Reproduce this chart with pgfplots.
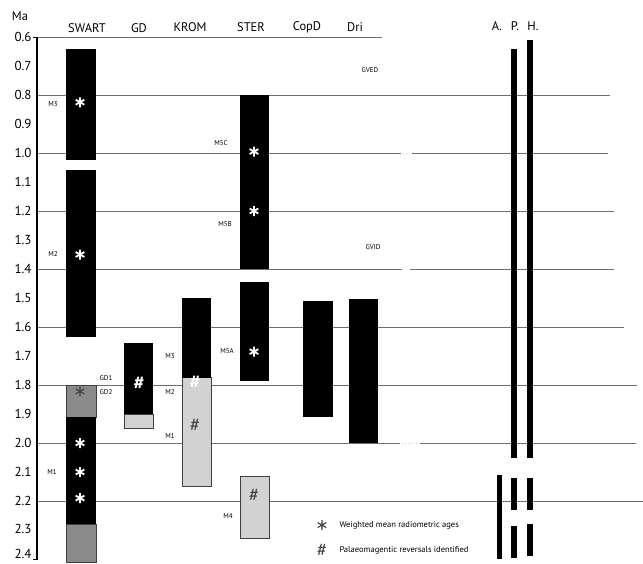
\documentclass[border=0pt]{standalone}
\usepackage{pgfplots}
\pgfplotsset{compat=1.18}
\usepackage{fontspec}
\setmainfont{PT Sans}

\definecolor{gridgray}{HTML}{6E6E6E}
\definecolor{darkfill}{HTML}{8A8A8A}
\definecolor{lightfill}{HTML}{D2D2D2}
\definecolor{edgegray}{HTML}{404040}

% one age range drawn as a filled column: x-from, x-to, age-from, age-to, style
\newcommand{\agebox}[5]{%
  \addplot[#5] coordinates {(#1,#3) (#2,#3) (#2,#4) (#1,#4)} -- cycle;}
% one horizontal age line: age, x-to
\newcommand{\ageline}[2]{%
  \addplot[gridgray, line width=0.9pt] coordinates {(36,#1) (#2,#1)};}

\begin{document}
\begin{tikzpicture}
\begin{axis}[
  scale only axis, width=643pt, height=564pt,
  xmin=0, xmax=643, ymin=0.4724, ymax=2.4172,
  y dir=reverse, clip=false,
  axis line style={draw=none},
  xtick=\empty,
  ytick={0.6,0.7,0.8,0.9,1.0,1.1,1.2,1.3,1.4,1.5,1.6,1.7,1.8,1.9,2.0,2.1,2.2,2.3,2.4},
  yticklabels={0.6,0.7,0.8,0.9,1.0,1.1,1.2,1.3,1.4,1.5,1.6,1.7,1.8,1.9,2.0,2.1,2.2,
    \raisebox{1.5pt}{2.3},\raisebox{10pt}{2.4}},
  major tick length=0pt,
  yticklabel style={font=\fontsize{13}{14}\selectfont, anchor=east, xshift=35pt},
]
% horizontal age lines
\ageline{0.6}{382}
\ageline{0.8}{610}
\ageline{1.0}{608}
\ageline{1.2}{614}
\ageline{1.4}{614}
\ageline{1.6}{624}
\ageline{1.8}{637}
\ageline{2.0}{636}
\ageline{2.2}{643}
% small breaks in the lines
\addplot[white, line width=2pt] coordinates {(401,1.0) (412,1.0)};
\addplot[white, line width=2pt] coordinates {(402,1.4) (410,1.4)};
\addplot[white, line width=2pt] coordinates {(400,2.0) (420,2.0)};
\addplot[lightfill, line width=0.8pt, dotted] coordinates {(403,1.0) (410,1.0)};
\addplot[lightfill, line width=0.8pt, dotted] coordinates {(402,2.0) (418,2.0)};

% time axis
\addplot[black, line width=2.6pt] coordinates {(37,0.6) (37,2.405)};
\addplot[black, line width=1pt] coordinates {(33,0.6) (37,0.6)};
\addplot[black, line width=1pt] coordinates {(33,2.4) (37,2.4)};

% SWART
\agebox{66}{96}{0.64}{1.025}{fill=black, draw=none}
\agebox{66}{96}{1.06}{1.635}{fill=black, draw=none}
\agebox{66}{96}{1.80}{1.91}{fill=darkfill, draw=edgegray, line width=0.8pt}
\agebox{66}{96}{2.28}{2.41}{fill=darkfill, draw=edgegray, line width=0.8pt}
\agebox{66}{96}{1.91}{2.28}{fill=black, draw=none}
% GD
\agebox{124}{153}{1.90}{1.95}{fill=lightfill, draw=edgegray, line width=0.8pt}
\agebox{124}{153}{1.655}{1.90}{fill=black, draw=none}
% KROM
\agebox{182}{211}{1.775}{2.15}{fill=lightfill, draw=edgegray, line width=0.8pt}
\agebox{182}{211}{1.50}{1.775}{fill=black, draw=none}
% STER
\agebox{240}{269}{0.80}{1.40}{fill=black, draw=none}
\agebox{240}{269}{1.445}{1.785}{fill=black, draw=none}
\agebox{240}{269}{2.115}{2.33}{fill=lightfill, draw=edgegray, line width=0.8pt}
% CopD, Dri
\agebox{303}{333}{1.51}{1.91}{fill=black, draw=none}
\agebox{349}{378}{1.505}{2.00}{fill=black, draw=none}
% A., P., H.
\agebox{497}{502}{2.11}{2.40}{fill=black, draw=none}
\agebox{511}{517}{0.64}{2.05}{fill=black, draw=none}
\agebox{511}{517}{2.12}{2.23}{fill=black, draw=none}
\agebox{511}{517}{2.285}{2.395}{fill=black, draw=none}
\agebox{527}{533}{0.61}{2.05}{fill=black, draw=none}
\agebox{527}{533}{2.12}{2.23}{fill=black, draw=none}
\agebox{527}{533}{2.28}{2.39}{fill=black, draw=none}

% weighted mean radiometric ages
\addplot[only marks, mark=asterisk, mark size=5pt, mark options={white, line width=1.8pt}]
  coordinates {(80,0.825) (80,1.35) (80,2.0) (80,2.1) (80,2.19)
               (254,0.995) (254,1.2) (254,1.685)};
\addplot[only marks, mark=asterisk, mark size=5pt, mark options={edgegray, line width=1.1pt}]
  coordinates {(80,1.822) (322,2.283)};

% palaeomagnetic reversals
\addplot[only marks, mark=text,
  text mark={\textcolor{white}{\bfseries\fontsize{19}{19}\selectfont\#}}]
  coordinates {(139,1.795) (195,1.79)};
\addplot[only marks, mark=text,
  text mark={\textcolor{edgegray}{\fontsize{19}{19}\selectfont\#}}]
  coordinates {(195,1.94) (254,2.18) (322,2.37)};

% column headings
\begin{scope}[every node/.style={font=\fontsize{12.5}{14}\selectfont}]
\node at (axis cs:20,0.528) {Ma};
\node at (axis cs:87,0.569) {SWART};
\node at (axis cs:139,0.569) {GD};
\node at (axis cs:190,0.565) {KROM};
\node at (axis cs:251,0.565) {STER};
\node at (axis cs:307,0.565) {CopD};
\node at (axis cs:355,0.565) {Dri};
\node at (axis cs:497,0.562) {A.};
\node at (axis cs:515,0.562) {P.};
\node at (axis cs:533,0.562) {H.};
\end{scope}

% unit labels
\begin{scope}[every node/.style={font=\fontsize{7}{8}\selectfont}]
\node at (axis cs:53,0.83) {M3};
\node at (axis cs:53,1.35) {M2};
\node at (axis cs:52,2.10) {M1};
\node at (axis cs:106,1.776) {GD1};
\node at (axis cs:106,1.824) {GD2};
\node at (axis cs:170,1.70) {M3};
\node at (axis cs:170,1.825) {M2};
\node at (axis cs:170,1.977) {M1};
\node at (axis cs:221,0.965) {M5C};
\node at (axis cs:225,1.245) {M5B};
\node at (axis cs:227,1.683) {M5A};
\node at (axis cs:228,2.25) {M4};
\node at (axis cs:370,0.714) {GVED};
\node at (axis cs:373,1.324) {GVID};
\end{scope}

% key
\node[anchor=west, font=\fontsize{8.5}{10}\selectfont] at (axis cs:336,2.285) {Weighted mean radiometric ages};
\node[anchor=west, font=\fontsize{8.5}{10}\selectfont] at (axis cs:336,2.37) {Palaeomagentic reversals identified};
\end{axis}
\pgfresetboundingbox
\path (current axis.south west) rectangle (current axis.north east);
\end{tikzpicture}
\end{document}
